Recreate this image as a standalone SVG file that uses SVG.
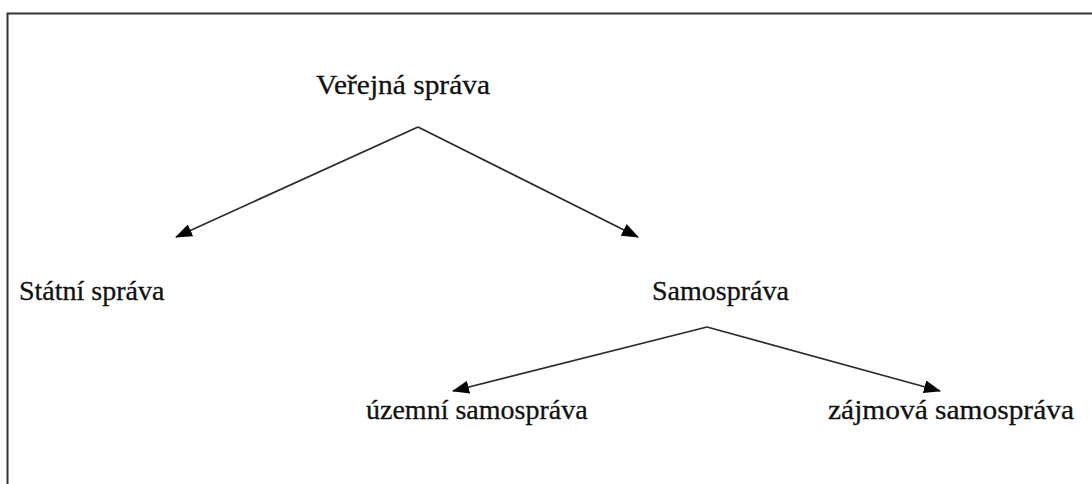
<svg xmlns="http://www.w3.org/2000/svg" width="1092" height="484" viewBox="0 0 1092 484">
<style>
.t{font-family:"Liberation Serif","Times New Roman",serif;font-size:28px;fill:#111;stroke:#111;stroke-width:0.3}
.c{stroke:#2a2a2a;stroke-width:1.8;fill:none}
</style>
<defs>
<marker id="ah" viewBox="0 0 17 13" refX="16" refY="6.5" markerWidth="17" markerHeight="13" markerUnits="userSpaceOnUse" orient="auto">
<path d="M0,0 L17,6.5 L0,13 Z" fill="#000"/>
</marker>
</defs>
<rect width="1092" height="484" fill="#fff"/>
<path d="M7.5,484 V13.5 H1092" fill="none" stroke="#333" stroke-width="2"/>
<g id="connectors">
<line class="c" x1="418" y1="127" x2="176" y2="237" marker-end="url(#ah)"/>
<line class="c" x1="418" y1="127" x2="638" y2="237" marker-end="url(#ah)"/>
<line class="c" x1="707" y1="327" x2="453" y2="391" marker-end="url(#ah)"/>
<line class="c" x1="707" y1="327" x2="940" y2="391" marker-end="url(#ah)"/>
</g>
<g id="n1"><text class="t" x="316" y="94" textLength="174" lengthAdjust="spacingAndGlyphs">Veřejná správa</text></g>
<g id="n2"><text class="t" x="19" y="300">Státní správa</text></g>
<g id="n3"><text class="t" x="652" y="300">Samospráva</text></g>
<g id="n4"><text class="t" x="366" y="419">územní samospráva</text></g>
<g id="n5"><text class="t" x="828" y="419" textLength="246" lengthAdjust="spacingAndGlyphs">zájmová samospráva</text></g>
</svg>
